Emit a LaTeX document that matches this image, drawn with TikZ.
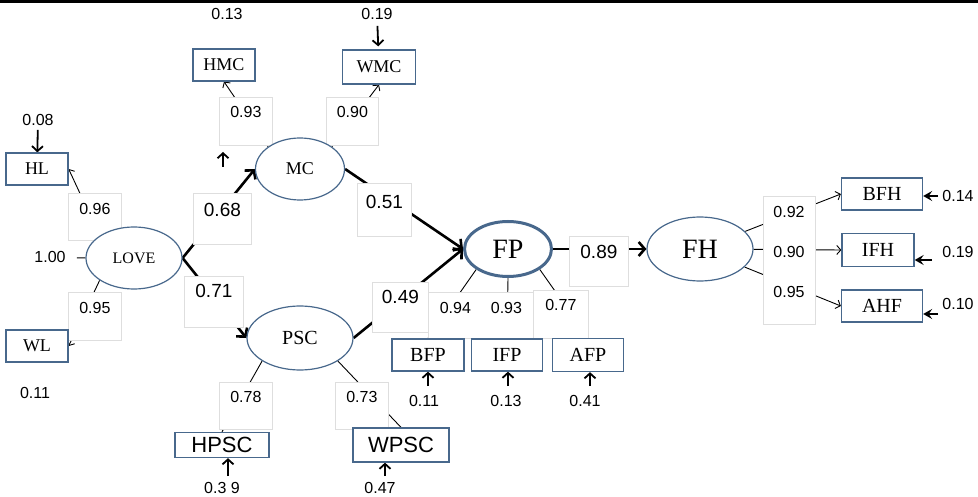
\documentclass[tikz,border=0pt]{standalone}
\usepackage{fontspec}
\setmainfont{Liberation Serif}
\setsansfont{Liberation Sans}
\usetikzlibrary{shapes.geometric,arrows.meta}
\pgfdeclarelayer{lines}
\pgfdeclarelayer{labels}
\pgfsetlayers{lines,labels,main}
\definecolor{nodeblue}{RGB}{72,104,140}
\definecolor{framegray}{RGB}{222,222,222}

\tikzset{
  obs/.style={draw=nodeblue, line width=1.3pt, fill=white, inner sep=0pt, font=\fontsize{18}{21}\selectfont},
  obsbig/.style={obs, font=\fontsize{20}{23}\selectfont},
  obssans/.style={obs, font=\sffamily\fontsize{22}{25}\selectfont},
  lat/.style={ellipse, draw=nodeblue, line width=1.2pt, fill=white, inner sep=0pt},
  lab/.style n args={3}{draw=framegray, line width=0.8pt, fill=white, inner sep=0pt, anchor=north west,
    text width=#1, align=center, text height=#2, text depth=#3, font=\sffamily\fontsize{16}{19}\selectfont},
  big/.style={font=\sffamily\fontsize{19}{22}\selectfont},
  val/.style={font=\sffamily\fontsize{16}{19}\selectfont, inner sep=1pt},
  pathline/.style={line width=2.6pt, -{Straight Barb[length=6pt,width=14pt]}},
  load/.style={line width=0.9pt, -{Straight Barb[length=4pt,width=9pt]}},
  plain/.style={line width=0.9pt},
  err/.style={line width=1.8pt, -{Straight Barb[length=5pt,width=11pt]}},
  errdart/.style={line width=1.4pt, -{Stealth[length=9pt,width=10pt,inset=3.5pt]}},
}

\begin{document}
\begin{tikzpicture}[x=1pt,y=-1pt]
  \useasboundingbox (0,0) rectangle (978,497);
  \draw[line width=3pt] (0,1.5) -- (978,1.5);

  % latent variables
  \node[lat, minimum width=96pt, minimum height=62pt, font=\fontsize{16}{19}\selectfont] (LOVE) at (134,258) {LOVE};
  \node[lat, minimum width=89pt, minimum height=62pt, font=\fontsize{18}{21}\selectfont] (MC) at (300,169) {MC};
  \node[lat, minimum width=106pt, minimum height=64pt, font=\fontsize{20}{23}\selectfont] (PSC) at (300,338) {PSC};
  \node[lat, line width=3pt, minimum width=87pt, minimum height=55pt, font=\fontsize{28}{32}\selectfont] (FP) at (508,249) {FP};
  \node[lat, minimum width=106pt, minimum height=64pt, font=\fontsize{28}{32}\selectfont] (FH) at (700,249) {FH};

  % indicators
  \node[obs, minimum width=62pt, minimum height=32pt] (HL) at (37,169) {HL};
  \node[obs, minimum width=62pt, minimum height=32pt] (WL) at (37,346) {WL};
  \node[obs, minimum width=62pt, minimum height=32pt] (HMC) at (224,65) {HMC};
  \node[obs, minimum width=73pt, minimum height=34pt] (WMC) at (379,67) {WMC};
  \node[obssans, minimum width=94pt, minimum height=25pt] (HPSC) at (222,445) {HPSC};
  \node[obssans, minimum width=96pt, minimum height=34pt] (WPSC) at (401,445) {WPSC};
  \node[obsbig, minimum width=72pt, minimum height=32pt] (BFP) at (428,355) {BFP};
  \node[obsbig, minimum width=71pt, minimum height=32pt] (IFP) at (507,355) {IFP};
  \node[obsbig, minimum width=71pt, minimum height=33pt] (AFP) at (588,355) {AFP};
  \node[obsbig, minimum width=81pt, minimum height=32pt] (BFH) at (882,194) {BFH};
  \node[obsbig, minimum width=72pt, minimum height=33pt] (IFH) at (878,250) {IFH};
  \node[obsbig, minimum width=81pt, minimum height=32pt] (AHF) at (882,306) {AHF};

  % error terms
  \node[val] (v100) at (50,257) {1.00};
  \node[val] (v08) at (38,120) {0.08};
  \node[val] (v11L) at (35,393) {0.11};
  \node[val] (v13M) at (227,14) {0.13};
  \node[val] (v19M) at (377,14) {0.19};
  \node[val] (v39) at (222,488) {0.3 9};
  \node[val] (v47) at (380,488) {0.47};
  \node[val] (v11F) at (424,401) {0.11};
  \node[val] (v13F) at (506,401) {0.13};
  \node[val] (v41F) at (585,401) {0.41};
  \node[val] (v14H) at (958,196) {0.14};
  \node[val] (v19H) at (958,252) {0.19};
  \node[val] (v10H) at (958,304) {0.10};

  \coordinate (eMC) at (223,167);
  \coordinate (eMCtip) at (223,152);
  \coordinate (tHPSC) at (228,476);
  \coordinate (tWPSC) at (385,476);
  \coordinate (tBFP) at (428,386);
  \coordinate (tIFP) at (508,386);
  \coordinate (tAFP) at (590,386);
  \coordinate (tBFH) at (938,196);
  \coordinate (tIFH) at (932,260);
  \coordinate (tAHF) at (938,314);

  \begin{pgfonlayer}{lines}
    % structural paths
    \draw[pathline] (LOVE.east) -- (MC.west);
    \draw[pathline] (LOVE.east) -- (PSC.west);
    \draw[pathline] (MC.east) -- (FP.west);
    \draw[pathline] (PSC.east) -- (FP.west);
    \draw[pathline] (FP.east) -- (FH.west);
    % loadings
    \draw[load] (LOVE.north west) -- (HL.east);
    \draw[load] (LOVE.south west) -- (WL.east);
    \draw[load] (MC.north west) -- (HMC.south);
    \draw[load] (MC.north east) -- (WMC.south);
    \draw[plain] (PSC.south west) -- (HPSC.north);
    \draw[plain] (PSC.south east) -- (WPSC.north);
    \draw[plain] (FP.south west) -- (BFP.north);
    \draw[plain] (FP.south) -- (IFP.north);
    \draw[plain] (FP.south east) -- (AFP.north);
    \draw[load] (FH) -- (BFH.west);
    \draw[load] (FH) -- (IFH.west);
    \draw[load] (FH) -- (AHF.west);
    % errors
    \draw[line width=1pt, shorten <=10pt] (v100) -- (LOVE.west);
    \draw[err, shorten <=3pt] (v08) -- (HL);
    \draw[err, shorten <=5pt, shorten >=3pt] (v19M) -- (WMC);
    \draw[err] (eMC) -- (eMCtip);
    \draw[err] (tHPSC) -- (tHPSC |- HPSC.south);
    \draw[err] (tWPSC) -- (tWPSC |- WPSC.south);
    \draw[err] (tBFP) -- (tBFP |- BFP.south);
    \draw[err] (tIFP) -- (tIFP |- IFP.south);
    \draw[err] (tAFP) -- (tAFP |- AFP.south);
    \draw[errdart] (tBFH) -- (BFH.east |- tBFH);
    \draw[errdart] (tIFH) -- (IFH.east |- tIFH);
    \draw[errdart] (tAHF) -- (AHF.east |- tAHF);
  \end{pgfonlayer}

  \begin{pgfonlayer}{labels}
    \node[lab={53pt}{21pt}{26pt}] (l096) at (68,193) {0.96};
    \node[lab={53pt}{21pt}{27pt}] (l095) at (68,292) {0.95};
    \node[lab={58pt}{23pt}{28pt}, big] (l068) at (193,193) {0.68};
    \node[lab={59pt}{21pt}{30pt}, big] (l071) at (184,276) {0.71};
    \node[lab={53pt}{20pt}{28pt}] (l093M) at (219,97) {0.93};
    \node[lab={52pt}{20pt}{28pt}] (l090M) at (326,97) {0.90};
    \node[lab={54pt}{25pt}{28pt}, big] (l051) at (357,183) {0.51};
    \node[lab={56pt}{21pt}{29pt}, big] (l049) at (372,282) {0.49};
    \node[lab={53pt}{20pt}{27pt}] (l078) at (219,382) {0.78};
    \node[lab={53pt}{20pt}{27pt}] (l073) at (335,382) {0.73};
    \node[lab={105pt}{21pt}{25pt}] (l094) at (428,292) {0.94\hspace{20pt}0.93};
    \node[lab={55pt}{20pt}{28pt}] (l077) at (533,290) {0.77};
    \node[lab={59pt}{22pt}{28pt}, big] (l089) at (569,236) {0.89};
    \node[lab={52pt}{0pt}{128pt}] (lFH) at (763,196) {};
    \node[val] (l092) at (789,212) {0.92};
    \node[val] (l090) at (789,252) {0.90};
    \node[val] (l095H) at (789,292) {0.95};
  \end{pgfonlayer}
\end{tikzpicture}
\end{document}
